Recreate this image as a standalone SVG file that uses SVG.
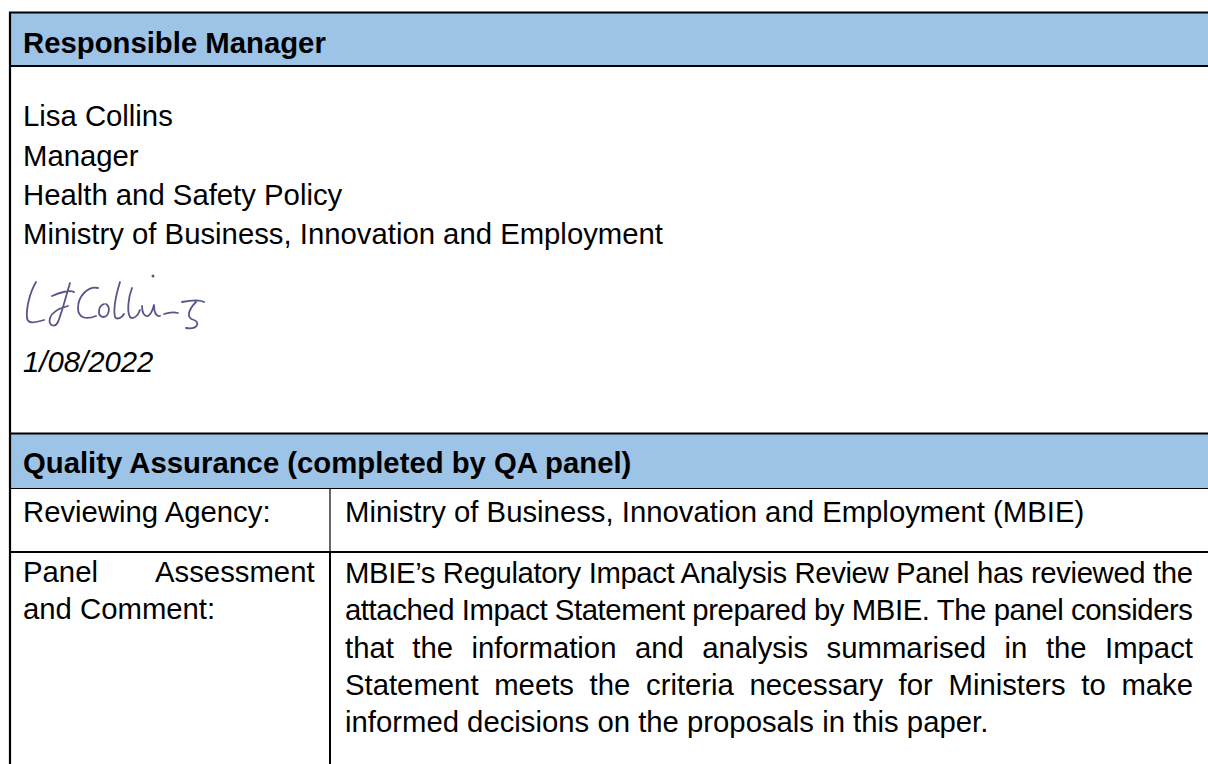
<svg xmlns="http://www.w3.org/2000/svg" width="1208" height="764" viewBox="0 0 1208 764">
<style>
.t{font-family:"Liberation Sans",Arial,sans-serif;font-size:29.3px;fill:#000}
.b{font-weight:bold}
.i{font-style:italic}
.band{fill:#9DC3E6}
.ln{stroke:#000;fill:none}
.sig{stroke:#55578a;fill:none;stroke-width:1.8;stroke-linecap:round;stroke-linejoin:round}
</style>
<rect width="1208" height="764" fill="#fff"/>
<g id="bands">
<rect class="band" x="10" y="13" width="1198" height="53"/>
<rect class="band" x="10" y="434" width="1198" height="54"/>
</g>
<g id="grid">
<line class="ln" x1="10" y1="12" x2="10" y2="764" stroke-width="2.2"/>
<line class="ln" x1="9" y1="12.5" x2="1208" y2="12.5" stroke-width="2.2"/>
<line class="ln" x1="9" y1="66" x2="1208" y2="66" stroke-width="2.2"/>
<line class="ln" x1="9" y1="433.5" x2="1208" y2="433.5" stroke-width="2.2"/>
<line class="ln" x1="9" y1="488.5" x2="1208" y2="488.5" stroke-width="1.2"/>
<line class="ln" x1="9" y1="552" x2="1208" y2="552" stroke-width="2"/>
<line class="ln" x1="330" y1="488" x2="330" y2="552" stroke-width="1.2"/>
<line class="ln" x1="330" y1="552" x2="330" y2="764" stroke-width="2"/>
</g>
<g id="responsible-manager">
<text class="t b" x="23" y="53">Responsible Manager</text>
<text class="t" x="23" y="126">Lisa Collins</text>
<text class="t" x="23" y="166">Manager</text>
<text class="t" x="23" y="205">Health and Safety Policy</text>
<text class="t" x="23" y="244">Ministry of Business, Innovation and Employment</text>
<g id="signature">
<path class="sig" d="M36 282 C30 292 26 308 27 318 C28 324 34 323 44 320"/>
<path class="sig" d="M52 296 C60 292 70 290 74 292 M70 283 C66 296 62 312 58 322 C55 328 48 326 50 318 C52 312 60 308 68 306"/>
<path class="sig" d="M98 288 C88 286 78 296 78 308 C78 318 86 320 96 316"/>
<path class="sig" d="M104 304 C98 306 97 316 103 317 C109 317 111 307 106 304"/>
<path class="sig" d="M120 282 C116 295 113 308 115 317 C117 320 122 318 124 314"/>
<path class="sig" d="M132 288 C128 298 127 312 130 317 C133 320 138 316 140 310"/>
<path class="sig" d="M142 306 C142 312 144 317 148 316 C152 314 153 308 154 305 C154 312 156 317 160 316"/>
<circle cx="153" cy="276" r="1.5" fill="#55578a"/>
<path class="sig" d="M164 314 C170 312 174 312 178 313"/>
<path class="sig" d="M182 302 C192 300 200 300 204 302 M196 302 C188 310 186 318 194 320 C200 322 198 330 186 328"/>
</g>
<text class="t i" x="23" y="372">1/08/2022</text>
</g>
<g id="quality-assurance">
<text class="t b" x="23" y="473">Quality Assurance (completed by QA panel)</text>
</g>
<g id="reviewing-agency">
<text class="t" x="23" y="522">Reviewing Agency:</text>
<text class="t" x="345" y="522">Ministry of Business, Innovation and Employment (MBIE)</text>
</g>
<g id="panel-assessment">
<text class="t" y="582"><tspan x="23">Panel</tspan><tspan x="155">Assessment</tspan></text>
<text class="t" x="23" y="619">and Comment:</text>
<text class="t" x="345" y="583" textLength="848" lengthAdjust="spacing">MBIE’s Regulatory Impact Analysis Review Panel has reviewed the</text>
<text class="t" x="345" y="620" textLength="848" lengthAdjust="spacing">attached Impact Statement prepared by MBIE. The panel considers</text>
<text class="t" y="658"><tspan x="345">that</tspan><tspan x="412.3">the</tspan><tspan x="471.5">information</tspan><tspan x="634.9">and</tspan><tspan x="702.3">analysis</tspan><tspan x="826.6">summarised</tspan><tspan x="1004.6">in</tspan><tspan x="1045.9">the</tspan><tspan x="1105">Impact</tspan></text>
<text class="t" y="695"><tspan x="345">Statement</tspan><tspan x="494.2">meets</tspan><tspan x="589.6">the</tspan><tspan x="646">criteria</tspan><tspan x="749.5">necessary</tspan><tspan x="898.6">for</tspan><tspan x="948.5">Ministers</tspan><tspan x="1081.3">to</tspan><tspan x="1121.4">make</tspan></text>
<text class="t" x="345" y="732">informed decisions on the proposals in this paper.</text>
</g>
</svg>
